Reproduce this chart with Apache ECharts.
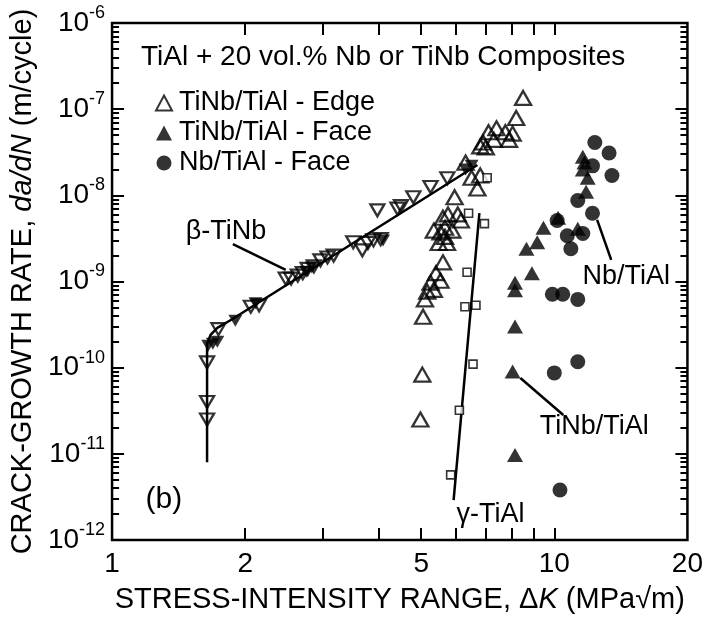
<!DOCTYPE html>
<html><head><meta charset="utf-8">
<script src="https://cdn.jsdelivr.net/npm/echarts@6/dist/echarts.min.js"></script>
<style>html,body{margin:0;padding:0;background:#fff}#c{width:706px;height:621px}</style>
</head><body><div id="c"></div>
<script>
const FONT = '"Liberation Sans", Arial, Helvetica, sans-serif';

// axis ticks / labels
const xTickValues = [2, 3, 4, 5, 6, 7, 8, 9, 10];
const xLabelValues = [1, 2, 5, 10, 20];
const yMajorValues = [1e-12, 1e-11, 1e-10, 1e-9, 1e-8, 1e-7, 1e-6];
const yMinorMantissas = [2, 3, 4, 5, 6, 7, 8, 9];
const yMinorValues = [];
yMajorValues.slice(0, -1).forEach(d => yMinorMantissas.forEach(m => yMinorValues.push(m * d)));

// TiNb/TiAl - Edge (open triangles)
const edgeK = [8.5, 8.2, 7.4, 7.1, 7.75, 8.05, 6.9, 7.3, 7.9, 7.0, 6.8, 6.3, 6.8, 6.5, 6.7, 5.95, 5.75, 6.05, 6.15, 5.6,
  5.34, 5.53, 5.66, 5.88, 5.66, 5.48, 5.72, 5.6, 5.4, 5.53, 5.25, 5.16, 5.34, 5.1, 5.05, 5.03, 4.98];
const edgeRate = [1.35e-7, 7.9e-8, 6.0e-8, 5.4e-8, 5.4e-8, 5.2e-8, 4.1e-8, 4.4e-8, 4.4e-8, 3.6e-8, 3.7e-8, 2.4e-8, 1.7e-8, 1.6e-8, 1.2e-8, 9.5e-9, 6.0e-9, 6.0e-9, 5.1e-9, 5.5e-9,
  3.9e-9, 3.7e-9, 4.2e-9, 3.9e-9, 3.3e-9, 2.8e-9, 2.8e-9, 1.67e-9, 1.25e-9, 1.02e-9, 9.7e-10, 7.6e-10, 8.0e-10, 6.2e-10, 3.9e-10, 8.3e-11, 2.5e-11];

// TiNb/TiAl - Face (filled triangles)
const faceK = [11.6, 11.7, 11.6, 11.9, 11.8, 11.3, 10.2, 9.45, 9.15, 8.65, 8.9, 8.15, 8.15, 8.15, 8.05, 8.15];
const faceRate = [2.8e-8, 2.4e-8, 2.0e-8, 1.6e-8, 1.1e-8, 4.1e-9, 5.5e-9, 4.2e-9, 2.85e-9, 2.4e-9, 1.25e-9, 9.7e-10, 7.9e-10, 3.0e-10, 9.0e-11, 9.7e-12];

// Nb/TiAl - Face (filled circles)
const nbK = [12.35, 13.3, 12.2, 13.5, 11.3, 12.2, 10.15, 10.7, 11.6, 10.9, 9.9, 10.45, 11.3, 10.0, 11.3, 10.3];
const nbRate = [4.1e-8, 3.1e-8, 2.2e-8, 1.7e-8, 8.7e-9, 6.2e-9, 5.1e-9, 3.4e-9, 3.6e-9, 2.4e-9, 7.1e-10, 7.1e-10, 6.2e-10, 8.7e-11, 1.17e-10, 3.8e-12];

// beta-TiNb (inverted triangles)
const betaOpenK = [1.64, 1.64, 1.64, 1.74, 2.06, 2.15, 2.47, 2.54, 2.63, 2.70, 2.77, 2.86, 2.96, 3.07, 3.17, 3.51, 3.68, 3.79, 3.9, 4.05, 3.98, 4.42, 4.5, 4.8, 5.25, 5.73];
const betaOpenRate = [1.15e-10, 4.0e-11, 2.5e-11, 2.8e-10, 5.1e-10, 5.3e-10, 1.08e-9, 1.08e-9, 1.17e-9, 1.25e-9, 1.4e-9, 1.5e-9, 1.76e-9, 1.9e-9, 2.0e-9, 2.85e-9, 2.3e-9, 2.8e-9, 3.0e-9, 3.1e-9, 6.7e-9, 7.0e-9, 7.5e-9, 9.5e-9, 1.25e-8, 1.58e-8];
const betaFilledK = [1.65, 1.69, 1.73, 1.9, 2.11, 2.75, 2.83, 4.1, 6.3, 6.5];
const betaFilledRate = [1.8e-10, 1.9e-10, 2.0e-10, 3.5e-10, 5.6e-10, 1.3e-9, 1.45e-9, 3.0e-9, 2.0e-8, 2.2e-8];

// gamma-TiAl (small open squares)
const gammaK = [7.05, 6.4, 6.95, 6.35, 6.28, 6.65, 6.55, 6.1, 5.83];
const gammaRate = [1.6e-8, 6.2e-9, 4.7e-9, 1.28e-9, 5.1e-10, 5.3e-10, 1.1e-10, 3.2e-11, 5.7e-12];

// fitted lines
const betaLineK = [1.64, 1.64, 1.67, 1.73, 1.86, 6.7];
const betaLineRate = [8e-12, 1.9e-10, 2.4e-10, 2.9e-10, 3.6e-10, 2.25e-8];
const gammaLineK = [5.92, 6.77];
const gammaLineRate = [2.9e-12, 6.2e-9];

// annotation leader lines
const leaderBetaK = [1.876, 2.47], leaderBetaRate = [2.72e-9, 1.36e-9];
const leaderNbK = [12.5, 13.45], leaderNbRate = [5.2e-9, 1.78e-9];
const leaderTiNbK = [8.38, 10.48], leaderTiNbRate = [7.6e-11, 2.82e-11];

// annotations
const annoTexts = ['β-TiNb', 'Nb/TiAl', 'TiNb/TiAl', 'γ-TiAl', '(b)'];
const annoK = [1.81, 14.54, 12.31, 7.17, 1.31];
const annoRate = [3.75e-9, 1.13e-9, 2.05e-11, 1.95e-12, 2.92e-12];
const annoSize = [27, 27, 27, 27, 30];

const zip = (a, b) => a.map((v, i) => [v, b[i]]);

const chart = echarts.init(document.getElementById('c'), null, {renderer: 'canvas'});
const black = '#000';
const tickStyle = {color: black, width: 2};

function xAx(pos, showLabel) {
  return {
    type: 'log', logBase: 10, min: 1, max: 20, position: pos,
    axisLine: {show: false},
    axisTick: {show: true, inside: true, length: 12, customValues: xTickValues, lineStyle: tickStyle},
    axisLabel: showLabel ? {show: true, customValues: xLabelValues, fontSize: 28, fontFamily: FONT, color: black, margin: 10} : {show: false},
    splitLine: {show: false}, minorTick: {show: false}
  };
}
function yAx(pos, vals, len, showLabel) {
  return {
    type: 'log', logBase: 10, min: 1e-12, max: 1e-6, position: pos,
    axisLine: {show: false},
    axisTick: {show: true, inside: true, length: len, customValues: vals, lineStyle: tickStyle},
    axisLabel: showLabel ? {
      show: true, customValues: yMajorValues, margin: 7,
      formatter: v => '{b|10}{s|' + Math.round(Math.log10(v)) + '}',
      rich: {
        b: {fontSize: 28, fontFamily: FONT, color: black},
        s: {fontSize: 18, fontFamily: FONT, color: black, padding: [0, 0, 20, 0]}
      }
    } : {show: false},
    splitLine: {show: false}, minorTick: {show: false}
  };
}

const xAxes = [xAx('bottom', true), xAx('top', false)];
xAxes[0].name = 'STRESS-INTENSITY RANGE, Δ{i|K} (MPa√m)';
xAxes[0].nameLocation = 'middle';
xAxes[0].nameGap = 45;
xAxes[0].nameTextStyle = {fontSize: 29, fontFamily: FONT, color: black,
  rich: {i: {fontSize: 29, fontFamily: FONT, color: black, fontStyle: 'italic'}}};

const yAxes = [yAx('left', yMajorValues, 12, true), yAx('left', yMinorValues, 7, false),
               yAx('right', yMajorValues, 12, false), yAx('right', yMinorValues, 7, false)];
yAxes[0].name = 'CRACK-GROWTH RATE, {i|da/dN} (m/cycle)';
yAxes[0].nameLocation = 'middle';
yAxes[0].nameGap = 67;
yAxes[0].nameTextStyle = {fontSize: 29, fontFamily: FONT, color: black,
  rich: {i: {fontSize: 29, fontFamily: FONT, color: black, fontStyle: 'italic'}}};

const hollow = {color: 'rgba(255,255,255,0)', borderColor: black, borderWidth: 2.3};
const solid = {color: black, borderColor: black, borderWidth: 0};

function lineSeries(name, k, r, w) {
  return {name, type: 'line', data: zip(k, r), showSymbol: false, symbol: 'none',
    lineStyle: {color: black, width: w}, z: 1, silent: true};
}

const option = {
  animation: false,
  backgroundColor: '#fff',
  grid: {left: 111, right: 18, top: 23, bottom: 81, show: true, borderColor: black, borderWidth: 2.5, backgroundColor: 'transparent'},
  title: {text: 'TiAl + 20 vol.% Nb or TiNb Composites', left: 136, top: 38,
    textStyle: {fontSize: 28, fontWeight: 'normal', fontFamily: FONT, color: black}},
  legend: {data: ['TiNb/TiAl - Edge', 'TiNb/TiAl - Face', 'Nb/TiAl - Face'], orient: 'vertical',
    left: 150, top: 83, itemWidth: 16, itemHeight: 15, itemGap: 0, selectedMode: false,
    textStyle: {fontSize: 27, fontFamily: FONT, color: black, lineHeight: 30, padding: [0, 0, 0, 2]}},
  xAxis: xAxes,
  yAxis: yAxes,
  series: [
    lineSeries('beta line', betaLineK, betaLineRate, 2.5),
    lineSeries('gamma line', gammaLineK, gammaLineRate, 2.5),
    lineSeries('leader beta', leaderBetaK, leaderBetaRate, 2.5),
    lineSeries('leader nb', leaderNbK, leaderNbRate, 2.5),
    lineSeries('leader tinb', leaderTiNbK, leaderTiNbRate, 2.5),
    {name: 'TiNb/TiAl - Edge', type: 'scatter', data: zip(edgeK, edgeRate), symbol: 'triangle', symbolSize: [16, 14], itemStyle: hollow, z: 3},
    {name: 'TiNb/TiAl - Face', type: 'scatter', data: zip(faceK, faceRate), symbol: 'triangle', symbolSize: [16, 14], itemStyle: solid, z: 3},
    {name: 'Nb/TiAl - Face', type: 'scatter', data: zip(nbK, nbRate), symbol: 'circle', symbolSize: 15, itemStyle: solid, z: 3},
    {name: 'β-TiNb open', type: 'scatter', data: zip(betaOpenK, betaOpenRate), symbol: 'triangle', symbolRotate: 180, symbolSize: [14, 12], itemStyle: hollow, z: 3},
    {name: 'β-TiNb filled', type: 'scatter', data: zip(betaFilledK, betaFilledRate), symbol: 'triangle', symbolRotate: 180, symbolSize: [14, 12], itemStyle: solid, z: 3},
    {name: 'γ-TiAl', type: 'scatter', data: zip(gammaK, gammaRate), symbol: 'rect', symbolSize: 8, itemStyle: {color: '#fff', borderColor: black, borderWidth: 1.6}, z: 3},
    {name: 'annotations', type: 'custom', clip: false, z: 5,
      data: annoK.map((k, i) => [k, annoRate[i], i]),
      renderItem: (params, api) => {
        const p = api.coord([api.value(0), api.value(1)]);
        const i = api.value(2);
        return {type: 'text', x: p[0], y: p[1],
          style: {text: annoTexts[i], fill: black, font: annoSize[i] + 'px ' + FONT, align: 'center', verticalAlign: 'middle'}};
      }}
  ]
};
chart.setOption(option);
</script>
</body></html>
